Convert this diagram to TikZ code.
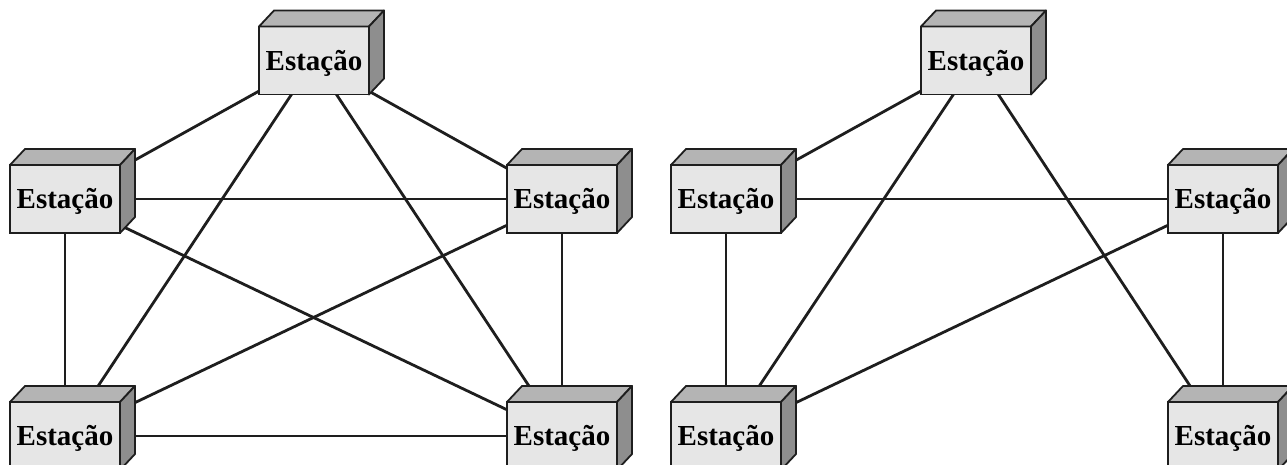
\documentclass[tikz,border=0pt]{standalone}
\usepackage{fontspec}
\setmainfont{Liberation Serif}
\usetikzlibrary{backgrounds}
\definecolor{frontc}{HTML}{E6E6E6}
\definecolor{topc}{HTML}{B4B4B4}
\definecolor{sidec}{HTML}{8E8E8E}
\definecolor{linec}{HTML}{1E1E1E}
\tikzset{
  station/.style={draw=linec, line width=1.8pt, fill=frontc, minimum width=110pt,
    minimum height=68pt, inner sep=0pt, outer sep=0pt,
    font=\fontsize{29}{31}\selectfont\bfseries, text height=19.5pt, text depth=0pt},
  facetop/.style={draw=linec, line width=1.8pt, fill=topc, line join=round},
  faceside/.style={draw=linec, line width=1.8pt, fill=sidec, line join=round},
  link/.style={draw=linec, line width=2.8pt}
}
\begin{document}
\begin{tikzpicture}[x=1pt,y=-1pt]
\useasboundingbox (0,0) rectangle (1287,465);
% left network
\node[station] (lt) at (314,60.5) {Estação};
\node[station] (lml) at (65,199) {Estação};
\node[station] (lmr) at (562,199) {Estação};
\node[station] (lbl) at (65,436) {Estação};
\node[station] (lbr) at (562,436) {Estação};
% right network
\node[station] (rt) at (976,60.5) {Estação};
\node[station] (rml) at (726,199) {Estação};
\node[station] (rmr) at (1223,199) {Estação};
\node[station] (rbl) at (726,436) {Estação};
\node[station] (rbr) at (1223,436) {Estação};
\foreach \n in {lt,lml,lmr,lbl,lbr,rt,rml,rmr,rbl,rbr}{
  \path[facetop] (\n.north west) -- ++(15,-16) -- ([shift={(15,-16)}]\n.north east) -- (\n.north east) -- cycle;
  \path[faceside] (\n.north east) -- ++(15,-16) -- ([shift={(15,-16)}]\n.south east) -- (\n.south east) -- cycle;
}
\begin{pgfonlayer}{background}
\foreach \a/\b in {lt/lml,lt/lmr,lt/lbl,lt/lbr,lml/lmr,lml/lbl,lml/lbr,lmr/lbl,lmr/lbr,lbl/lbr,
                   rt/rml,rt/rbl,rt/rbr,rml/rmr,rml/rbl,rmr/rbl,rmr/rbr}{
  \draw[link] (\a.center) -- (\b.center);
}
\end{pgfonlayer}
\end{tikzpicture}
\end{document}
